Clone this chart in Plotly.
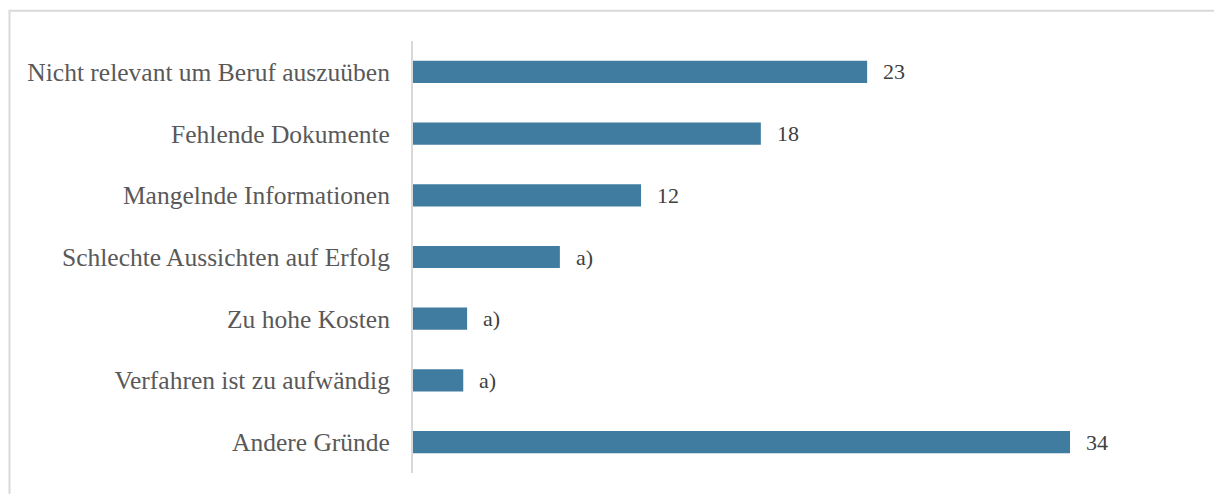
import plotly.graph_objects as go

categories = [
    "Nicht relevant um Beruf auszuüben",
    "Fehlende Dokumente",
    "Mangelnde Informationen",
    "Schlechte Aussichten auf Erfolg",
    "Zu hohe Kosten",
    "Verfahren ist zu aufwändig",
    "Andere Gründe",
]
values = [23.5, 18.0, 11.8, 7.6, 2.8, 2.6, 34.0]
value_labels = ["23", "18", "12", "a)", "a)", "a)", "34"]

BAR = "#407ca0"
TXT = "#595959"
NUM = "#404040"
FONT = "Liberation Serif"

fig = go.Figure(go.Bar(
    x=values, y=categories, orientation="h",
    marker=dict(color=BAR, line=dict(width=0)),
    width=0.36, hoverinfo="skip",
))

for c, v, t in zip(categories, values, value_labels):
    fig.add_annotation(x=v, y=c, text=t, showarrow=False, xanchor="left",
                       xshift=14, font=dict(family=FONT, size=22, color=NUM))

fig.add_shape(type="rect", xref="paper", yref="paper",
              x0=-0.522, x1=1.1, y0=-0.2, y1=1.07,
              line=dict(color="#d9d9d9", width=2), layer="below")

fig.update_layout(
    width=1214, height=494,
    margin=dict(l=413, r=28, t=41, b=21),
    paper_bgcolor="white", plot_bgcolor="white",
    showlegend=False,
    font=dict(family=FONT, size=22, color=TXT),
    xaxis=dict(range=[0, 40], showgrid=False, zeroline=False,
               showticklabels=False, showline=False, fixedrange=True),
    yaxis=dict(autorange="reversed", showgrid=False, zeroline=False,
               showline=True, linecolor="#d9d9d9", linewidth=2,
               ticks="", ticklabelstandoff=16, fixedrange=True,
               tickfont=dict(family=FONT, size=25.5, color=TXT)),
)

fig.write_html("out.html", config={"displayModeBar": False},
               post_script="document.body.style.margin='0';document.body.style.overflow='hidden';")
